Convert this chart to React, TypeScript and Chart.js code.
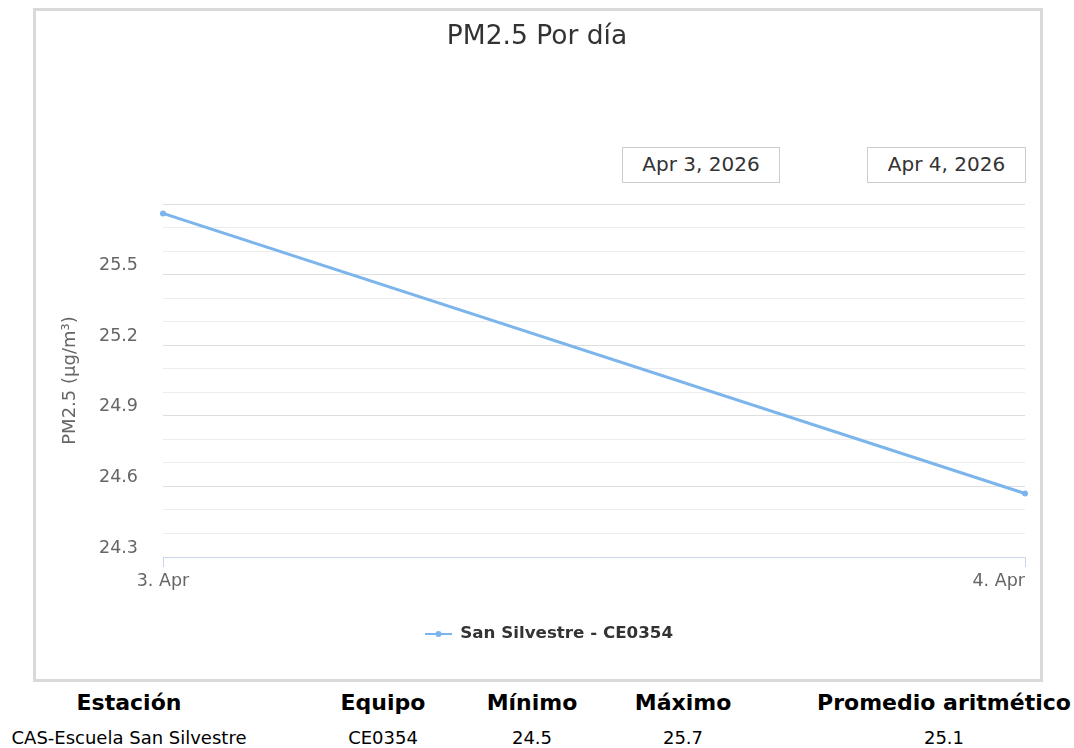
import React, { useEffect, useRef } from 'react';
import { Chart, registerables } from 'chart.js';

Chart.register(...registerables);

// ---- data ----
const categories = ['3. Apr', '4. Apr'];
const pm25Values = [25.76, 24.57];
const yMin = 24.3;
const yMax = 25.8;
const yStep = 0.1;
const yTickLabels = [24.3, 24.6, 24.9, 25.2, 25.5];
const seriesName = 'San Silvestre - CE0354';
const chartTitle = 'PM2.5 Por día';
const yAxisTitle = 'PM2.5 (µg/m³)';
const rangeDates = ['Apr 3, 2026', 'Apr 4, 2026'];
const tableHeaders = ['Estación', 'Equipo', 'Mínimo', 'Máximo', 'Promedio aritmético'];
const tableRow = ['CAS-Escuela San Silvestre', 'CE0354', '24.5', '25.7', '25.1'];

const FONT = '"DejaVu Sans", Verdana, sans-serif';
const LINE = '#7cb5ec';

const near = (a: number, b: number) => Math.abs(a - b) < 1e-6;

const xLabelPlugin = {
  id: 'xLabels',
  afterDraw(chart: any) {
    const x = chart.scales.x;
    const ctx = chart.ctx;
    ctx.save();
    ctx.font = `17.5px ${FONT}`;
    ctx.fillStyle = '#666666';
    ctx.textBaseline = 'middle';
    const n = x.ticks.length;
    x.ticks.forEach((t: any, i: number) => {
      const px = x.getPixelForTick(i);
      ctx.textAlign = i === n - 1 && n > 1 ? 'right' : 'center';
      ctx.fillText(String(x.getLabelForValue(t.value)), px, chart.chartArea.bottom + 24);
    });
    ctx.restore();
  },
};

function makeLegendSymbol() {
  const c = document.createElement('canvas');
  c.width = 51;
  c.height = 10;
  const g = c.getContext('2d')!;
  g.strokeStyle = LINE;
  g.lineWidth = 2;
  g.beginPath();
  g.moveTo(24, 5);
  g.lineTo(51, 5);
  g.stroke();
  g.fillStyle = LINE;
  g.beginPath();
  g.arc(37.5, 5, 3, 0, Math.PI * 2);
  g.fill();
  return c;
}

export default function App() {
  const ref = useRef<HTMLCanvasElement | null>(null);

  useEffect(() => {
    if (!ref.current) return;
    const symbol = makeLegendSymbol();
    const chart = new Chart(ref.current, {
      type: 'line',
      data: {
        labels: categories,
        datasets: [
          {
            label: seriesName,
            data: pm25Values,
            borderColor: LINE,
            backgroundColor: LINE,
            borderWidth: 3,
            pointRadius: 3,
            pointBackgroundColor: LINE,
            pointBorderWidth: 0,
            tension: 0,
            fill: false,
          },
        ],
      },
      options: {
        responsive: false,
        animation: false,
        layout: { padding: { left: 13, right: 15, top: 0, bottom: 26.65 } },
        plugins: {
          tooltip: { enabled: false },
          title: {
            display: true,
            text: chartTitle,
            color: '#333333',
            font: { family: FONT, size: 26.5, weight: 'normal' },
            padding: { top: 10.1, bottom: 151.1 },
          },
          legend: {
            position: 'bottom',
            labels: {
              usePointStyle: true,
              pointStyle: symbol as any,
              pointStyleWidth: 51,
              color: '#333333',
              font: { family: FONT, size: 16.7, weight: 'bold' },
              padding: 10,
            },
          },
        },
        scales: {
          x: {
            type: 'category',
            offset: false,
            ticks: { display: false },
            grid: { drawOnChartArea: false, drawTicks: true, tickLength: 10, color: '#ccd6eb' },
            border: { color: '#ccd6eb', width: 1 },
            afterFit: (s: any) => {
              s.height = 58.65;
            },
          },
          y: {
            type: 'linear',
            min: yMin,
            max: yMax,
            ticks: {
              stepSize: yStep,
              maxTicksLimit: 40,
              autoSkip: false,
              padding: 25,
              labelOffset: -9,
              color: '#666666',
              font: { family: FONT, size: 17.5 },
              callback: (value: any) => {
                const v = Number(value);
                return yTickLabels.some((t) => near(t, v)) ? v.toFixed(1) : '';
              },
            },
            grid: {
              drawTicks: false,
              lineWidth: 1,
              color: (ctx: any) => {
                const v = ctx.tick ? ctx.tick.value : null;
                if (v == null) return '#e6e6e6';
                if (near(v, yMin)) return 'rgba(0,0,0,0)';
                const major = yTickLabels.some((t) => near(t, v)) || near(v, yMax);
                return major ? '#dedede' : '#ececec';
              },
            },
            border: { display: false },
            title: {
              display: true,
              text: yAxisTitle,
              color: '#666666',
              font: { family: FONT, size: 18 },
              padding: { top: 10.2, bottom: 0 },
            },
            afterFit: (s: any) => {
              s.width = 114;
            },
          },
        },
      },
      plugins: [xLabelPlugin],
    } as any);
    return () => chart.destroy();
  }, []);

  const centers = [129, 383, 532, 683, 944];
  const halfW = [120, 100, 70, 70, 128];

  return (
    <div style={{ position: 'relative', width: 1066, height: 740, fontFamily: FONT }}>
      <style>{'html{overflow:hidden}body{margin:8px 0 0 8px}'}</style>
      <div
        style={{
          position: 'absolute',
          left: 25,
          top: 0,
          width: 1010,
          height: 674,
          boxSizing: 'border-box',
          border: '3px solid #d9d9d9',
          background: '#ffffff',
        }}
      >
        <canvas
          ref={ref}
          width={1004}
          height={668}
          style={{ position: 'absolute', left: 0, top: 0, width: 1004, height: 668, display: 'block' }}
        />
      </div>
      {rangeDates.map((d, i) => (
        <div
          key={d}
          style={{
            position: 'absolute',
            left: i === 0 ? 614 : 859,
            top: 139,
            width: i === 0 ? 158 : 159,
            height: 36,
            boxSizing: 'border-box',
            border: '1px solid #cccccc',
            background: '#ffffff',
            color: '#333333',
            fontSize: 20,
            lineHeight: '33px',
            textAlign: 'center',
          }}
        >
          {d}
        </div>
      ))}
      {tableHeaders.map((h, i) => (
        <div
          key={h}
          style={{
            position: 'absolute',
            left: centers[i] - 8 - halfW[i],
            width: halfW[i] * 2,
            top: 680,
            height: 30,
            lineHeight: '30px',
            textAlign: 'center',
            fontWeight: 'bold',
            fontSize: 22,
            color: '#000000',
            whiteSpace: 'nowrap',
          }}
        >
          {h}
        </div>
      ))}
      {tableRow.map((c, i) => (
        <div
          key={i}
          style={{
            position: 'absolute',
            left: centers[i] - 8 - halfW[i],
            width: halfW[i] * 2,
            top: 718,
            height: 24,
            lineHeight: '24px',
            textAlign: 'center',
            fontSize: 18,
            color: '#000000',
            whiteSpace: 'nowrap',
          }}
        >
          {c}
        </div>
      ))}
    </div>
  );
}
